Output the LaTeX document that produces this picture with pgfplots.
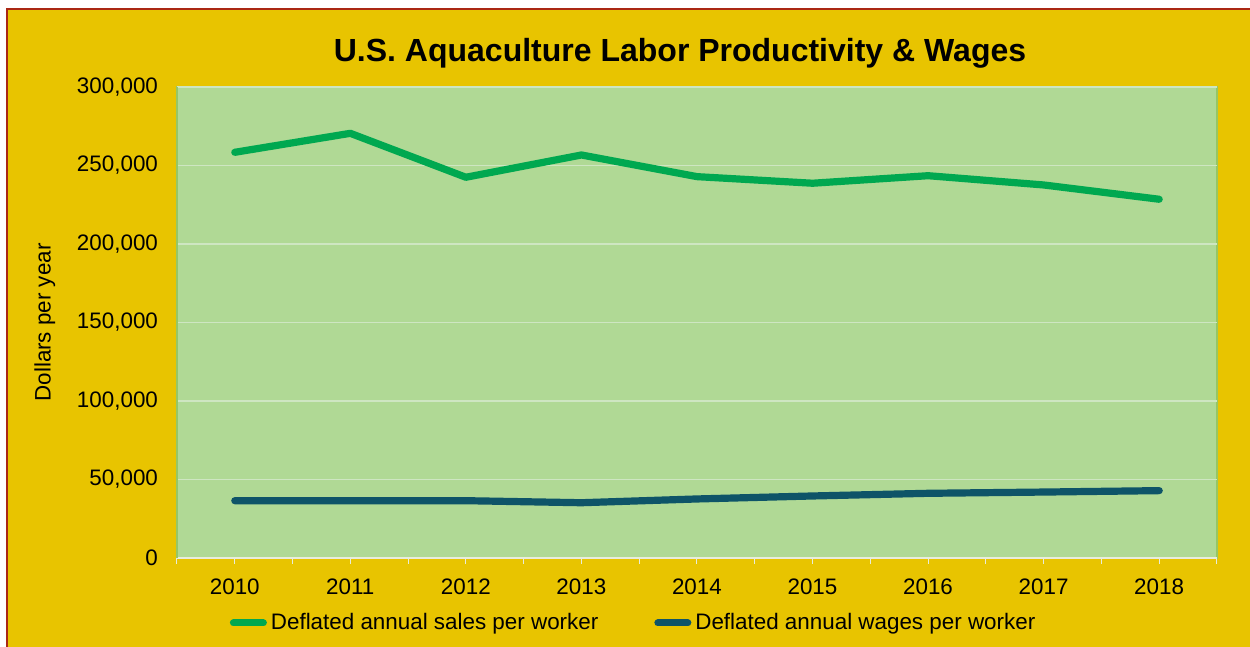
\documentclass[border=0pt]{standalone}
\usepackage{pgfplots}
\pgfplotsset{compat=1.18}
\usepackage{fontspec}
\setmainfont{Liberation Sans}
\definecolor{bgyellow}{RGB}{232,196,0}
\definecolor{plotgreen}{RGB}{176,217,149}
\definecolor{bordergreen}{RGB}{150,198,100}
\definecolor{gridc}{RGB}{206,230,194}
\definecolor{salesc}{RGB}{0,168,80}
\definecolor{wagesc}{RGB}{14,84,104}
\definecolor{darkred}{RGB}{170,40,20}
\definecolor{tickc}{RGB}{232,236,220}
\begin{document}
\begin{tikzpicture}
\useasboundingbox (0,0) rectangle (625pt,323.5pt);
\fill[white] (0,0) rectangle (625pt,323.5pt);
\fill[bgyellow] (3.5pt,0) rectangle (625pt,319pt);
\draw[darkred, line width=0.6pt] (3.5pt,0) -- (3.5pt,319pt) -- (625pt,319pt);
\node[anchor=base, font=\fontsize{16}{19}\selectfont\bfseries] at (340pt,292.5pt) {U.S. Aquaculture Labor Productivity \& Wages};
\begin{axis}[
  at={(88.5pt,44.5pt)}, anchor=south west,
  scale only axis, width=520pt, height=235.5pt,
  xmin=2009.5, xmax=2018.5, ymin=0, ymax=300000,
  xtick={2010,...,2018},
  minor xtick={2009.5,2010.5,...,2018.5},
  ytick={0,50000,...,300000},
  scaled y ticks=false, scaled x ticks=false,
  /pgf/number format/.cd, fixed, 1000 sep={,}, assume math mode=true, /pgfplots/.cd,
  xticklabel={\pgfmathprintnumber[fixed,1000 sep={}]{\tick}},
  axis background/.style={fill=plotgreen, draw=bordergreen, line width=0.8pt},
  axis x line*=bottom, axis y line*=left,
  x axis line style={draw=tickc, line width=0.6pt, -},
  y axis line style={draw=bordergreen, line width=0.8pt, -},
  tick align=outside,
  major x tick style={draw=tickc, line width=0.5pt},
  minor x tick style={draw=tickc, line width=0.5pt},
  major tick length=3pt, minor tick length=3pt,
  y tick style={draw=none},
  ymajorgrids, grid style={draw=gridc, line width=0.6pt},
  tick label style={font=\fontsize{11.2}{13}\selectfont},
  yticklabel style={xshift=-3pt},
  xticklabel style={yshift=-4pt},
  ylabel={Dollars per year},
  ylabel style={at={(axis description cs:-0.127,0.5)}, anchor=center, font=\fontsize{11.2}{13}\selectfont},
  legend columns=2,
  legend style={at={(axis description cs:0.44,-0.138)}, anchor=center, draw=none, fill=none,
    font=\fontsize{11.2}{13}\selectfont, /tikz/every even column/.append style={column sep=26pt}},
  legend image code/.code={\draw[#1, line cap=round, line width=3.5pt] (0pt,0pt) -- (15pt,0pt);},
]
\addplot[salesc, line width=3.6pt, line cap=round, line join=round] coordinates {
(2010,258400) (2011,270500) (2012,242500) (2013,256700) (2014,242900)
(2015,238700) (2016,243500) (2017,237600) (2018,228500)};
\addlegendentry{Deflated annual sales per worker}
\addplot[wagesc, line width=3.6pt, line cap=round, line join=round] coordinates {
(2010,36500) (2011,36500) (2012,36500) (2013,35200) (2014,37600)
(2015,39500) (2016,41200) (2017,42000) (2018,42900)};
\addlegendentry{Deflated annual wages per worker}
\end{axis}
\end{tikzpicture}
\end{document}
